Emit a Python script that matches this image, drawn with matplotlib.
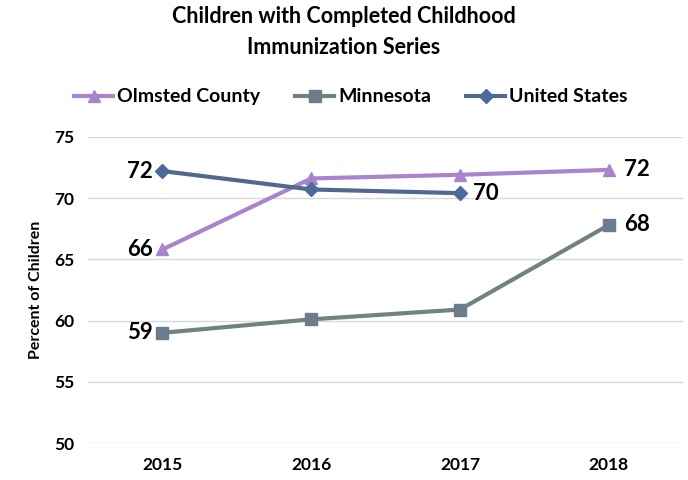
import matplotlib.pyplot as plt

years = ["2015", "2016", "2017", "2018"]
olmsted = [65.8, 71.6, 71.9, 72.3]
minnesota = [59.0, 60.1, 60.9, 67.8]
united_states = [72.2, 70.7, 70.4]

plt.rcParams['font.family'] = ['Lato', 'DejaVu Sans']

fig = plt.figure(figsize=(6.88, 4.8), dpi=100)
ax = fig.add_axes([0.128, 0.077, 0.865, 0.638])

x = list(range(len(years)))
ax.plot(x, olmsted, color='#a983cc', lw=3, marker='^', ms=9, label='Olmsted County')
ax.plot(x, minnesota, color='#728283', lw=3, marker='s', ms=8,
        mfc='#6d7c8c', mec='#6d7c8c', label='Minnesota')
ax.plot(x[:3], united_states, color='#52688f', lw=3, marker='D', ms=7,
        mfc='#4d6a9c', mec='#4d6a9c', label='United States')

# data labels: first point on the left, last point on the right
lab = dict(fontsize=16, fontweight='bold', va='center')
ax.annotate(f"{olmsted[0]:.0f}", (x[0], olmsted[0]), xytext=(-7, 0), textcoords='offset points', ha='right', **lab)
ax.annotate(f"{minnesota[0]:.0f}", (x[0], minnesota[0]), xytext=(-7, 0), textcoords='offset points', ha='right', **lab)
ax.annotate(f"{united_states[0]:.0f}", (x[0], united_states[0]), xytext=(-7, 0), textcoords='offset points', ha='right', **lab)
ax.annotate(f"{olmsted[-1]:.0f}", (x[3], olmsted[-1]), xytext=(11, 0), textcoords='offset points', ha='left', **lab)
ax.annotate(f"{minnesota[-1]:.0f}", (x[3], minnesota[-1]), xytext=(11, 0), textcoords='offset points', ha='left', **lab)
ax.annotate(f"{united_states[-1]:.0f}", (x[2], united_states[-1]), xytext=(9, 0), textcoords='offset points', ha='left', **lab)

ax.set_xlim(-0.5, 3.5)
ax.set_ylim(50, 75)
ax.set_yticks(range(50, 76, 5))
ax.set_xticks(x)
ax.set_xticklabels(years)
ax.tick_params(length=0, labelsize=12.5)
for t in ax.get_xticklabels() + ax.get_yticklabels():
    t.set_fontweight('bold')
ax.tick_params(axis='x', pad=10)
ax.tick_params(axis='y', pad=10)
ax.grid(axis='y', color='#d9d9d9', lw=1)
ax.set_axisbelow(True)
for s in ax.spines.values():
    s.set_visible(False)
ax.set_ylabel("Percent of Children", fontsize=11.5, fontweight='bold', labelpad=8)

fig.text(0.5, 0.933, "Children with Completed Childhood\nImmunization Series", ha='center', va='center',
         fontsize=15.5, fontweight='bold', linespacing=1.55)
fig.legend(loc='center', bbox_to_anchor=(0.51, 0.798), ncol=3, frameon=False,
           prop={'weight': 'bold', 'size': 14}, handlelength=2.0, columnspacing=1.8, handletextpad=0.2)

fig.savefig("out.png", dpi=100)
